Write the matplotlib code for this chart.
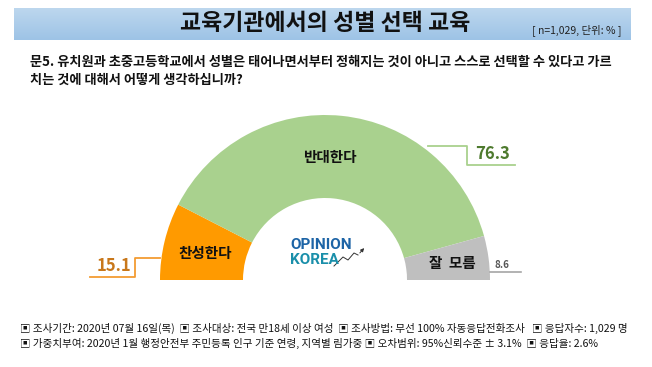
import matplotlib
matplotlib.use("Agg")
import matplotlib.pyplot as plt
import numpy as np
from matplotlib.colors import LinearSegmentedColormap

plt.rcParams['font.family'] = ['Noto Sans CJK KR', 'DejaVu Sans']

categories = ['찬성한다', '반대한다', '잘 모름']
values = [15.1, 76.3, 8.6]
colors = ['#FF9A00', '#A9D18E', '#BFBFBF']
value_labels = ['15.1', '76.3', '8.6']

title = '교육기관에서의 성별 선택 교육'
subtitle = '[ n=1,029, 단위: % ]'
question = ['문5. 유치원과 초중고등학교에서 성별은 태어나면서부터 정해지는 것이 아니고 스스로 선택할 수 있다고 가르',
            '치는 것에 대해서 어떻게 생각하십니까?']
footer = ['▣ 조사기간: 2020년 07월 16일(목)  ▣ 조사대상: 전국 만18세 이상 여성  ▣ 조사방법: 무선 100% 자동응답전화조사   ▣ 응답자수: 1,029 명',
          '▣ 가중치부여: 2020년 1월 행정안전부 주민등록 인구 기준 연령, 지역별 림가중 ▣ 오차범위: 95%신뢰수준 ± 3.1%  ▣ 응답율: 2.6%']

W, H = 652, 367
fig = plt.figure(figsize=(W/100, H/100), dpi=100)
ax = fig.add_axes([0, 0, 1, 1])

def Y(py):
    return H - py

# title band with gradient
grad = np.linspace(0, 1, 50).reshape(-1, 1)
cmap = LinearSegmentedColormap.from_list('b', ['#BDD7EE', '#9DC3E6'])
ax.imshow(grad, cmap=cmap, extent=[14, 631, Y(40), Y(8)], aspect='auto', zorder=0)
ax.text(325, Y(24), title, ha='center', va='center', fontsize=16.5, fontweight='bold', color='#111111')
ax.text(622, Y(30), subtitle, ha='right', va='center', fontsize=7.5, color='#222222')

ax.text(30, Y(62), question[0], ha='left', va='center', fontsize=9.5, fontweight='bold', color='#111111')
ax.text(30, Y(80), question[1], ha='left', va='center', fontsize=9.5, fontweight='bold', color='#111111')

# half donut
cx, cy, R, r = 325, Y(280), 165, 82
total = sum(values)
wedges, _ = ax.pie(values + [total], radius=R, center=(cx, cy), startangle=180,
                   counterclock=False, colors=colors + ['none'],
                   wedgeprops=dict(width=R - r, linewidth=0))
wedges[-1].set_visible(False)

# category labels inside
ax.text(205, Y(253), categories[0], ha='center', va='center', fontsize=10.5, fontweight='bold', color='#111111')
ax.text(330, Y(157), categories[1], ha='center', va='center', fontsize=10.5, fontweight='bold', color='#111111')
ax.text(452, Y(263), '잘  모름', ha='center', va='center', fontsize=10.5, fontweight='bold', color='#111111')

# leader lines and values
ax.plot([160, 135, 135, 90], [Y(258), Y(258), Y(277), Y(277)], color='#F39C33', lw=1.3)
ax.text(114, Y(266), value_labels[0], ha='center', va='center', fontsize=12, fontweight='bold', color='#C8771A')
ax.plot([428, 467, 467, 515], [Y(146), Y(146), Y(165), Y(165)], color='#A9D18E', lw=1.3)
ax.text(492, Y(154), value_labels[1], ha='center', va='center', fontsize=12, fontweight='bold', color='#4E7A2E')
ax.plot([490, 521], [Y(272), Y(272)], color='#A6A6A6', lw=1.2)
ax.text(502, Y(265), value_labels[2], ha='center', va='center', fontsize=7, fontweight='bold', color='#555555')

# logo
ax.text(290, Y(245), 'OPINION', ha='left', va='center', fontsize=11, fontweight='bold', color='#1D64A6', family='Roboto')
ax.text(290, Y(260), 'KOREA', ha='left', va='center', fontsize=11, fontweight='bold', color='#1A8FAA', family='Roboto')
ax.plot([334, 343, 348, 354, 358], [Y(266), Y(257), Y(260), Y(253), Y(255)], color='#333333', lw=0.7)
ax.annotate('', xy=(366, Y(246)), xytext=(358, Y(255)),
            arrowprops=dict(arrowstyle='-|>', color='#333333', lw=0.7, mutation_scale=5))

ax.text(20, Y(328), footer[0], ha='left', va='center', fontsize=7.6, color='#111111')
ax.text(20, Y(343), footer[1], ha='left', va='center', fontsize=7.6, color='#111111')

ax.set_xlim(0, W)
ax.set_ylim(0, H)
ax.set_aspect('auto')
ax.axis('off')
fig.savefig('out.png', dpi=100)
